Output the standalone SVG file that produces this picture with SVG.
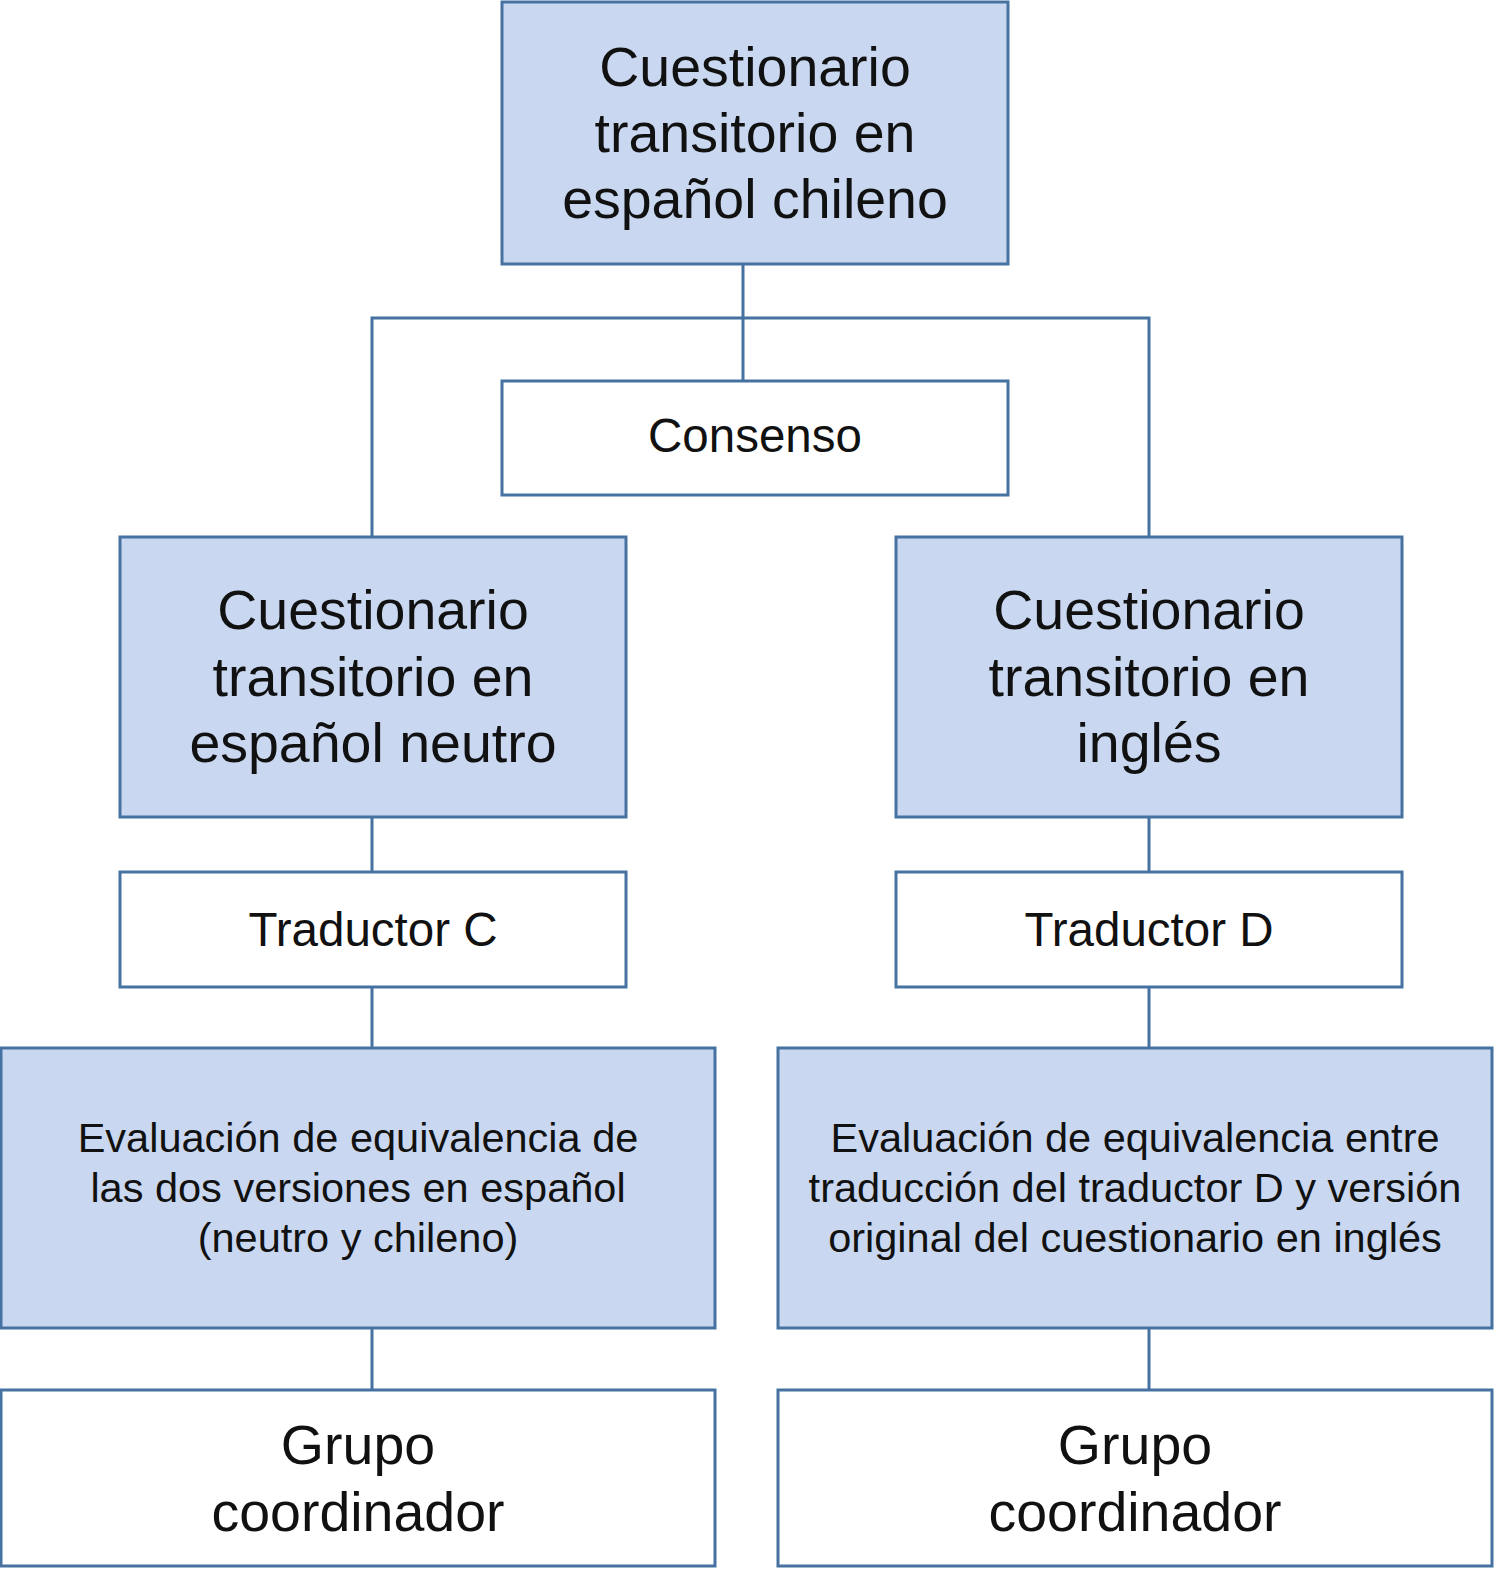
<svg xmlns="http://www.w3.org/2000/svg" width="1503" height="1578" viewBox="0 0 1503 1578">
<style>
.b{stroke:#4672a2;stroke-width:3;fill:#c9d8f0}
.w{stroke:#4672a2;stroke-width:3;fill:#ffffff}
.c{stroke:#4672a2;stroke-width:3;fill:none}
text{font-family:"Liberation Sans",Arial,sans-serif;fill:#111;text-anchor:middle}
.L{font-size:55.5px}
.M{font-size:47.5px}
.S{font-size:41.5px}
</style>
<rect width="1503" height="1578" fill="#fff"/>
<g id="connectors">
<path class="c" d="M743 264V381M372 537V318H1149V537M372 817V872M372 987V1048M372 1328V1390M1149 817V872M1149 987V1048M1149 1328V1390"/>
</g>
<g id="n1"><rect class="b" x="502" y="2" width="506" height="262"/>
<text class="L" x="755"><tspan x="755" y="86">Cuestionario</tspan><tspan x="755" y="152">transitorio en</tspan><tspan x="755" y="218">español chileno</tspan></text></g>
<g id="n2"><rect class="w" x="502" y="381" width="506" height="114"/>
<text class="M" x="755" y="452">Consenso</text></g>
<g id="n3"><rect class="b" x="120" y="537" width="506" height="280"/>
<text class="L"><tspan x="373" y="629">Cuestionario</tspan><tspan x="373" y="696">transitorio en</tspan><tspan x="373" y="762">español neutro</tspan></text></g>
<g id="n4"><rect class="b" x="896" y="537" width="506" height="280"/>
<text class="L"><tspan x="1149" y="629">Cuestionario</tspan><tspan x="1149" y="696">transitorio en</tspan><tspan x="1149" y="762">inglés</tspan></text></g>
<g id="n5"><rect class="w" x="120" y="872" width="506" height="115"/>
<text class="M" x="373" y="946">Traductor C</text></g>
<g id="n6"><rect class="w" x="896" y="872" width="506" height="115"/>
<text class="M" x="1149" y="946">Traductor D</text></g>
<g id="n7"><rect class="b" x="1" y="1048" width="714" height="280"/>
<text class="S"><tspan x="358" y="1152">Evaluación de equivalencia de</tspan><tspan x="358" y="1202">las dos versiones en español</tspan><tspan x="358" y="1252">(neutro y chileno)</tspan></text></g>
<g id="n8"><rect class="b" x="778" y="1048" width="714" height="280"/>
<text class="S"><tspan x="1135" y="1152">Evaluación de equivalencia entre</tspan><tspan x="1135" y="1202">traducción del traductor D y versión</tspan><tspan x="1135" y="1252">original del cuestionario en inglés</tspan></text></g>
<g id="n9"><rect class="w" x="1" y="1390" width="714" height="176"/>
<text class="L"><tspan x="358" y="1464">Grupo</tspan><tspan x="358" y="1531">coordinador</tspan></text></g>
<g id="n10"><rect class="w" x="778" y="1390" width="714" height="176"/>
<text class="L"><tspan x="1135" y="1464">Grupo</tspan><tspan x="1135" y="1531">coordinador</tspan></text></g>
</svg>
